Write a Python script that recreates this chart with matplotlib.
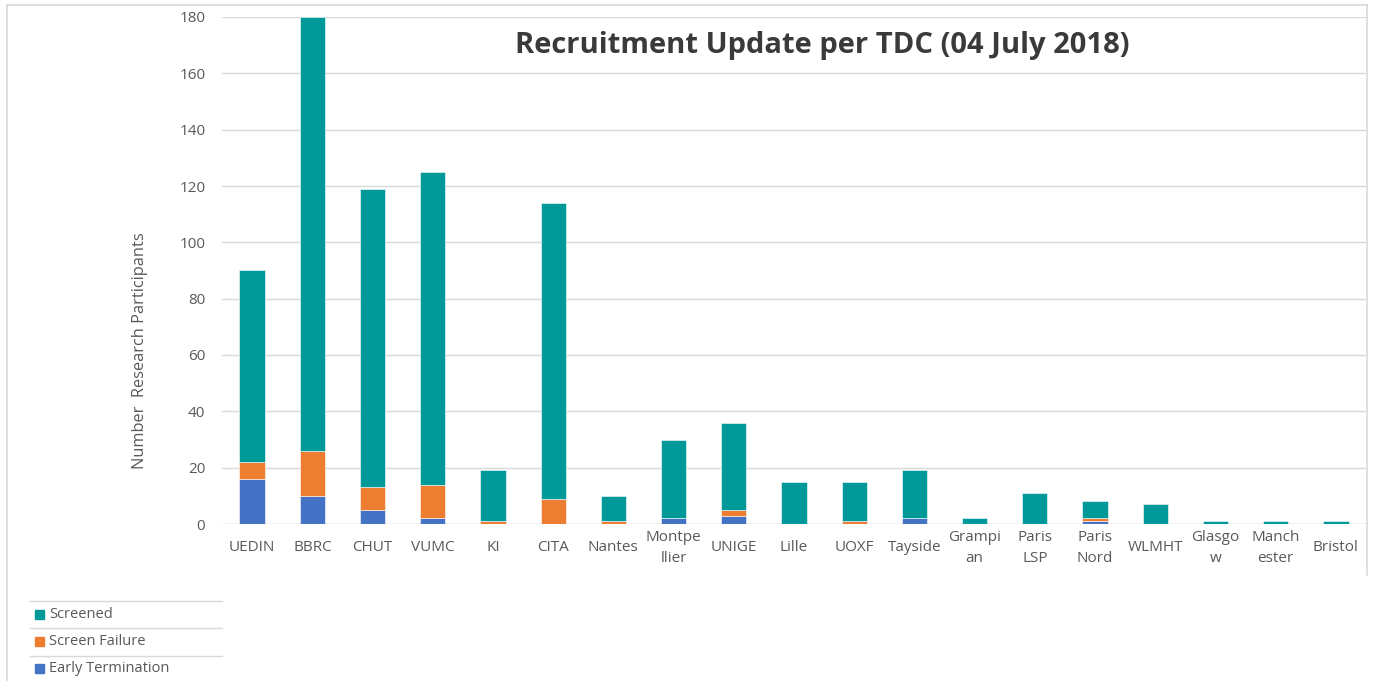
import numpy as np
import matplotlib.pyplot as plt
from matplotlib.patches import Rectangle
from matplotlib.lines import Line2D

# Données
sites = ["UEDIN", "BBRC", "CHUT", "VUMC", "KI", "CITA", "Nantes", "Montpe\nllier",
         "UNIGE", "Lille", "UOXF", "Tayside", "Grampi\nan", "Paris\nLSP", "Paris\nNord",
         "WLMHT", "Glasgo\nw", "Manch\nester", "Bristol"]
early_termination = [16, 10, 5, 2, 0, 0, 0, 2, 3, 0, 0, 2, 0, 0, 1, 0, 0, 0, 0]
screen_failure = [6, 16, 8, 12, 1, 9, 1, 0, 2, 0, 1, 0, 0, 0, 1, 0, 0, 0, 0]
screened = [68, 154, 106, 111, 18, 105, 9, 28, 31, 15, 14, 17, 2, 11, 6, 7, 1, 1, 1]

C_SCREENED = "#009999"
C_FAIL = "#ED7D31"
C_EARLY = "#4472C4"
GRID = "#d9d9d9"
TXT = "#595959"

W, H = 1374, 681
fig = plt.figure(figsize=(W / 100, H / 100), dpi=100)
ax = fig.add_axes([222 / W, (H - 524) / H, (1366 - 222) / W, (524 - 17) / H])

x = np.arange(len(sites))
e = np.array(early_termination)
f = np.array(screen_failure)
s = np.array(screened)
bw = 0.42
ax.bar(x, e, bw, color=C_EARLY, edgecolor="white", linewidth=0.4, zorder=3)
ax.bar(x, f, bw, bottom=e, color=C_FAIL, edgecolor="white", linewidth=0.4, zorder=3)
ax.bar(x, s, bw, bottom=e + f, color=C_SCREENED, edgecolor="white", linewidth=0.4, zorder=3)

ax.set_xlim(-0.5, len(sites) - 0.5)
ax.set_ylim(0, 180)
ax.set_yticks(range(0, 181, 20))
ax.grid(axis="y", color=GRID, linewidth=1, zorder=0)
for sp in ax.spines.values():
    sp.set_visible(False)
ax.axhline(0, color=GRID, linewidth=1, zorder=2)

ax.set_xticks(x)
ax.set_xticklabels(sites, fontsize=11, color=TXT, family="Open Sans", va="center",
                   linespacing=1.55)
ax.tick_params(axis="x", length=0, pad=17)
ax.tick_params(axis="y", length=0, pad=12, labelsize=11, labelcolor=TXT)
for lbl in ax.get_yticklabels():
    lbl.set_family("Open Sans")

ax.set_ylabel("Number  Research Participants", fontsize=11.8, color=TXT,
              family="Open Sans", va="center")
ax.yaxis.set_label_coords((140 - 222) / 1144, (524 - 351) / 507)

fig.text(822 / W, 1 - 45 / H, "Recruitment Update per TDC (04 July 2018)",
         ha="center", va="center", fontsize=21, fontweight="bold",
         color="#3a3a3a", family="Open Sans")

# cadre
fig.add_artist(Line2D([7 / W, 1367 / W], [1 - 5 / H, 1 - 5 / H], color=GRID, lw=1.2))
fig.add_artist(Line2D([7 / W, 7 / W], [0, 1 - 5 / H], color=GRID, lw=1.2))
fig.add_artist(Line2D([1367 / W, 1367 / W], [1 - 575 / H, 1 - 5 / H], color=GRID, lw=1.2))

# légende
legend_items = [("Screened", C_SCREENED), ("Screen Failure", C_FAIL),
                ("Early Termination", C_EARLY)]
for i, (name, col) in enumerate(legend_items):
    ytop = 601 + i * 27.3
    fig.add_artist(Line2D([30 / W, 222 / W], [1 - ytop / H, 1 - ytop / H], color=GRID, lw=1))
    yc = ytop + 13
    fig.add_artist(Rectangle((35 / W, 1 - (yc + 4.5) / H), 9 / W, 9 / H,
                             transform=fig.transFigure, color=col))
    fig.text(49 / W, 1 - yc / H, name, ha="left", va="center", fontsize=10.5,
             color=TXT, family="Open Sans")

fig.savefig("out.png", dpi=100)
